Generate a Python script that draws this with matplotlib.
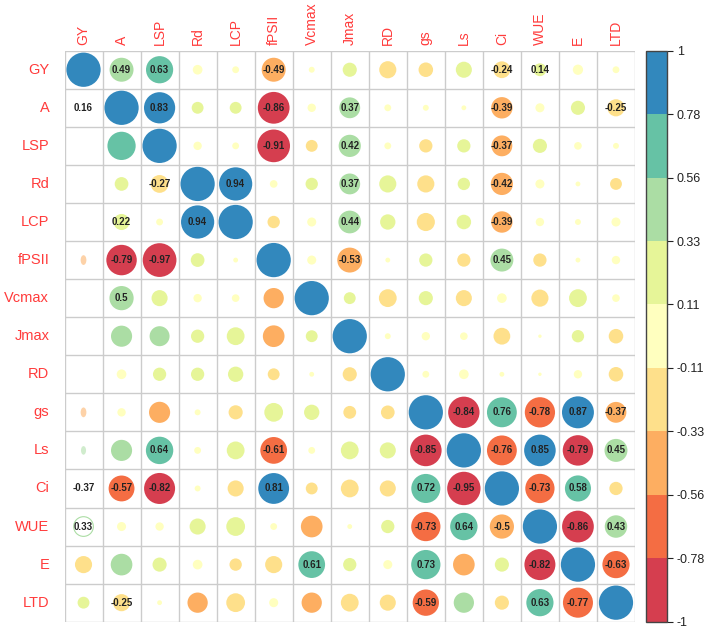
import numpy as np
import matplotlib
matplotlib.use("Agg")
import matplotlib.pyplot as plt
from matplotlib.colors import ListedColormap, BoundaryNorm
from matplotlib.patches import Circle, Ellipse

plt.rcParams['font.family'] = ['Liberation Sans', 'DejaVu Sans']

names = ["GY", "A", "LSP", "Rd", "LCP", "fPSII", "Vcmax", "Jmax", "RD",
         "gs", "Ls", "Ci", "WUE", "E", "LTD"]

# correlation, row by row
r = np.array([
    [1, 0.49, 0.63, 0.08, 0.04, -0.49, 0.03, 0.17, -0.25, -0.18, 0.22, -0.24, 0.14, 0.09, 0.04],
    [0.16, 1, 0.83, 0.12, 0.12, -0.86, 0.06, 0.37, 0.04, 0.03, 0.02, -0.39, 0.07, 0.17, -0.25],
    [0, 0.68, 1, 0.06, 0.04, -0.91, -0.12, 0.42, 0.04, -0.15, 0.15, -0.37, 0.17, 0.05, 0.03],
    [0, 0.16, -0.27, 1, 0.94, 0.05, 0.13, 0.37, 0.25, -0.25, 0.13, -0.42, 0.07, 0.02, -0.12],
    [0, 0.22, 0.04, 0.94, 1, -0.13, 0.07, 0.44, 0.2, -0.28, 0.18, -0.39, 0.06, 0.03, 0.07],
    [-0.45, -0.79, -0.97, 0.16, 0.02, 1, 0.07, -0.53, 0.02, 0.15, -0.15, 0.45, -0.15, 0.02, 0.06],
    [0, 0.5, 0.22, 0.06, 0.05, -0.35, 1, 0.12, -0.27, 0.17, -0.22, 0.08, -0.25, 0.27, 0.05],
    [0, 0.38, 0.34, 0.15, 0.27, -0.4, 0.12, 1, 0.03, 0.06, 0.05, -0.24, 0.01, 0.13, -0.18],
    [0, 0.08, 0.15, 0.15, 0.2, -0.12, 0.02, -0.17, 1, 0.04, 0.08, 0.02, 0.01, 0.06, -0.18],
    [-0.45, 0.06, -0.38, 0.03, -0.17, 0.3, 0.2, -0.14, -0.16, 1, -0.84, 0.76, -0.78, 0.87, -0.37],
    [0.35, 0.38, 0.64, 0.04, 0.27, -0.61, 0.04, 0.27, 0.22, -0.85, 1, -0.76, 0.85, -0.79, 0.45],
    [-0.37, -0.57, -0.82, 0.03, -0.22, 0.81, -0.12, -0.27, -0.22, 0.72, -0.95, 1, -0.73, 0.58, -0.15],
    [0.33, 0.07, 0.06, 0.22, 0.3, 0.04, -0.4, 0.02, 0.15, -0.73, 0.64, -0.5, 1, -0.86, 0.43],
    [-0.25, 0.4, 0.17, 0.08, -0.13, -0.25, 0.61, 0.15, 0.07, 0.73, -0.4, 0.17, -0.82, 1, -0.63],
    [0.12, -0.25, 0.02, -0.35, -0.3, 0.07, -0.35, -0.27, -0.22, -0.59, 0.35, -0.17, 0.63, -0.77, 1],
])

# which cells carry a printed coefficient
lab = np.array([
    [0, 1, 1, 0, 0, 1, 0, 0, 0, 0, 0, 1, 1, 0, 0],
    [1, 0, 1, 0, 0, 1, 0, 1, 0, 0, 0, 1, 0, 0, 1],
    [0, 0, 0, 0, 0, 1, 0, 1, 0, 0, 0, 1, 0, 0, 0],
    [0, 0, 1, 0, 1, 0, 0, 1, 0, 0, 0, 1, 0, 0, 0],
    [0, 1, 0, 1, 0, 0, 0, 1, 0, 0, 0, 1, 0, 0, 0],
    [0, 1, 1, 0, 0, 0, 0, 1, 0, 0, 0, 1, 0, 0, 0],
    [0, 1, 0, 0, 0, 0, 0, 0, 0, 0, 0, 0, 0, 0, 0],
    [0, 0, 0, 0, 0, 0, 0, 0, 0, 0, 0, 0, 0, 0, 0],
    [0, 0, 0, 0, 0, 0, 0, 0, 0, 0, 0, 0, 0, 0, 0],
    [0, 0, 0, 0, 0, 0, 0, 0, 0, 0, 1, 1, 1, 1, 1],
    [0, 0, 1, 0, 0, 1, 0, 0, 0, 1, 0, 1, 1, 1, 1],
    [1, 1, 1, 0, 0, 1, 0, 0, 0, 1, 1, 0, 1, 1, 0],
    [1, 0, 0, 0, 0, 0, 0, 0, 0, 1, 1, 1, 0, 1, 1],
    [0, 0, 0, 0, 0, 0, 1, 0, 0, 1, 0, 0, 1, 0, 1],
    [0, 1, 0, 0, 0, 0, 0, 0, 0, 1, 0, 0, 1, 1, 0],
])

# mark type in the GY column: 1 circle, 0 none, 2 hollow, 3 faint ellipse
gy_mark = [1, 0, 0, 0, 0, 3, 0, 0, 0, 3, 3, 0, 2, 1, 1]

bounds = [-1, -0.78, -0.56, -0.33, -0.11, 0.11, 0.33, 0.56, 0.78, 1]
colors = ["#D53E4F", "#F46D43", "#FDAE61", "#FEE08B", "#FFFFBF",
          "#E6F598", "#ABDDA4", "#66C2A5", "#3288BD"]
cmap = ListedColormap(colors)
norm = BoundaryNorm(bounds, cmap.N)

fig = plt.figure(figsize=(7.07, 6.32), dpi=100)
ax = fig.add_axes([64.5 / 707, 10.3 / 632, 570.5 / 707, 571 / 632])
n = len(names)
ax.set_xlim(0, n)
ax.set_ylim(n, 0)
ax.axis('off')

for k in range(n + 1):
    ax.plot([k, k], [0, n], color="#CCCCCC", lw=1, zorder=1)
    ax.plot([0, n], [k, k], color="#CCCCCC", lw=1, zorder=1)

for i in range(n):
    for j in range(n):
        v = r[i, j]
        c = cmap(norm(v))
        rad = 0.45 * np.sqrt(abs(v))
        x, y = j + 0.5, i + 0.5
        mark = gy_mark[i] if j == 0 else 1
        if mark == 1:
            ax.add_patch(Circle((x, y), rad, facecolor=c, edgecolor='none', zorder=2))
        elif mark == 2:
            ax.add_patch(Circle((x, y), rad, facecolor='none', edgecolor=c, lw=0.8, zorder=2))
        elif mark == 3:
            ax.add_patch(Ellipse((x, y), rad * 0.5, rad * 0.85, facecolor=c,
                                 edgecolor='none', alpha=0.55, zorder=2))
        if lab[i, j]:
            ax.text(x, y, f"{round(v, 2):g}", ha='center', va='center',
                    fontsize=7, fontweight='bold', color="#222222", zorder=3)

for k, nm in enumerate(names):
    ax.text(k + 0.5, -0.15, nm, rotation=90, ha='center', va='bottom',
            fontsize=10, color="#FF3B3B")
    ax.text(-0.4, k + 0.5, nm, ha='right', va='center',
            fontsize=10.5, color="#FF3B3B")

cax = fig.add_axes([646 / 707, 10.3 / 632, 21 / 707, 571 / 632])
sm = plt.cm.ScalarMappable(cmap=cmap, norm=norm)
cb = fig.colorbar(sm, cax=cax, boundaries=bounds, ticks=bounds)
cb.ax.set_yticklabels([f"{b:g}" for b in bounds])
cb.ax.tick_params(labelsize=9, length=4, pad=3, colors="#222222")
cb.outline.set_edgecolor("#444444")
cb.outline.set_linewidth(1)

fig.savefig("out.png", dpi=100)
